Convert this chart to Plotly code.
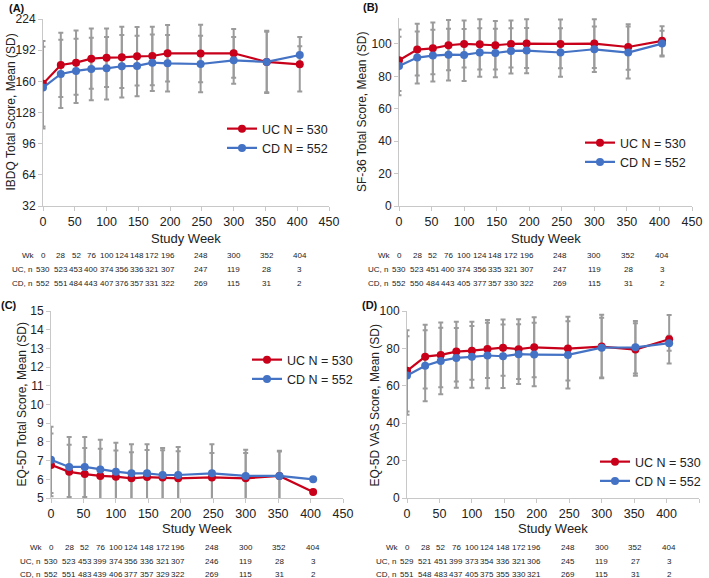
import plotly.graph_objects as go

# study weeks (x) shared by all four panels
weeks = [0, 28, 52, 76, 100, 124, 148, 172, 196, 248, 300, 352, 404]

# (A) IBDQ total score
ibdq_uc = [157.5, 176.8, 179.2, 183.3, 184.3, 184.6, 185.7, 186.0, 188.8, 188.5, 188.8, 179.9, 177.5]
ibdq_uc_sd = [44, 33, 33, 31, 30, 31.5, 30, 30, 29, 29.5, 25, 32, 28]
ibdq_cd = [153.6, 167.6, 170.7, 172.7, 173.4, 175.5, 175.8, 179.2, 178.5, 177.8, 181.6, 179.9, 187.0]
ibdq_cd_sd = [42, 35, 33, 32, 32, 32, 31, 29, 29, 29, 24, 31, 9]
ibdq_uc_n = [530, 523, 453, 400, 374, 356, 336, 321, 307, 247, 119, 28, 3]
ibdq_cd_n = [552, 551, 484, 443, 407, 376, 357, 331, 322, 269, 115, 31, 2]

# (B) SF-36 total score
sf_uc = [89.9, 96.5, 97.3, 99.2, 100.0, 99.8, 99.2, 100.0, 100.2, 100.0, 100.2, 98.1, 101.9]
sf_uc_sd = [19, 16, 16, 15.5, 14.5, 15.5, 15, 14.5, 15, 15, 15, 14, 9]
sf_cd = [86.4, 91.6, 92.8, 93.4, 93.2, 94.7, 94.4, 95.7, 95.9, 94.7, 96.7, 94.7, 100.2]
sf_cd_sd = [18, 16, 16, 16, 16, 15, 15, 14, 14, 15, 14, 16, 8]
sf_uc_n = [530, 523, 451, 400, 374, 356, 335, 321, 307, 247, 119, 28, 3]
sf_cd_n = [552, 550, 484, 443, 405, 377, 357, 330, 322, 269, 115, 31, 2]

# (C) EQ-5D total score
eq_uc = [6.77, 6.40, 6.28, 6.18, 6.14, 6.05, 6.12, 6.10, 6.05, 6.10, 6.05, 6.18, 5.32]
eq_uc_sd = [1.68, 1.45, 1.4, 1.45, 1.4, 1.4, 1.45, 1.45, 1.45, 1.3, 1.35, 1.3, None]
eq_cd = [7.04, 6.66, 6.66, 6.52, 6.41, 6.32, 6.32, 6.23, 6.23, 6.32, 6.18, 6.18, 6.00]
eq_cd_sd = [1.77, 1.6, 1.6, 1.6, 1.55, 1.55, 1.55, 1.45, 1.5, 1.55, 1.4, 1.35, None]
eq_uc_n = [530, 523, 453, 399, 374, 356, 336, 321, 307, 246, 119, 28, 3]
eq_cd_n = [552, 551, 483, 439, 406, 377, 357, 329, 322, 269, 115, 31, 2]

# (D) EQ-5D VAS score
vas_uc = [68.0, 75.6, 76.5, 78.3, 78.8, 79.7, 80.4, 79.6, 80.6, 79.9, 81.0, 79.4, 84.9]
vas_uc_sd = [21.7, 17, 17.3, 16, 15.5, 15.5, 15, 16, 16, 17, 17, 14, 13]
vas_cd = [65.5, 70.7, 73.3, 74.9, 75.5, 76.2, 75.8, 76.9, 76.7, 76.5, 80.4, 80.6, 82.8]
vas_cd_sd = [21, 19, 17.8, 16, 16.5, 17.5, 17, 16, 17, 18, 16, 14, 4]
vas_uc_n = [529, 521, 451, 399, 373, 354, 336, 321, 306, 245, 119, 27, 3]
vas_cd_n = [551, 548, 483, 437, 405, 375, 355, 330, 321, 269, 115, 31, 2]

RED = "#C8001A"
BLUE = "#4472C4"
GREY = "#9B9B9B"
FONT = "Liberation Sans, Arial, sans-serif"
W, H = 709, 578

panels = [
    dict(tag="(A)", ax="", leg="legend", uc=ibdq_uc, ucsd=ibdq_uc_sd, cd=ibdq_cd, cdsd=ibdq_cd_sd,
         ucn=ibdq_uc_n, cdn=ibdq_cd_n, title="IBDQ Total Score, Mean (SD)",
         yrange=[32, 224], yticks=[32, 64, 96, 128, 160, 192, 224],
         xdom=[43, 329], ydom=[19, 206], legpos=(222, 114), tag_xy=(27, 8),
         table_y=[255, 269, 283], ytitle_x=10, xtitle_y=238),
    dict(tag="(B)", ax="2", leg="legend2", uc=sf_uc, ucsd=sf_uc_sd, cd=sf_cd, cdsd=sf_cd_sd,
         ucn=sf_uc_n, cdn=sf_cd_n, title="SF-36 Total Score, Mean (SD)",
         yrange=[0, 116], yticks=[0, 20, 40, 60, 80, 100],
         xdom=[399, 692], ydom=[18, 206], legpos=(580, 128), tag_xy=(381, 7),
         table_y=[255, 269, 283], ytitle_x=362, xtitle_y=238),
    dict(tag="(C)", ax="3", leg="legend3", uc=eq_uc, ucsd=eq_uc_sd, cd=eq_cd, cdsd=eq_cd_sd,
         ucn=eq_uc_n, cdn=eq_cd_n, title="EQ-5D Total Score, Mean (SD)",
         yrange=[5, 15], yticks=list(range(5, 16)),
         xdom=[51, 343], ydom=[311, 498], legpos=(247, 345), tag_xy=(19, 305),
         table_y=[547, 561, 574], ytitle_x=21, xtitle_y=528),
    dict(tag="(D)", ax="4", leg="legend4", uc=vas_uc, ucsd=vas_uc_sd, cd=vas_cd, cdsd=vas_cd_sd,
         ucn=vas_uc_n, cdn=vas_cd_n, title="EQ-5D VAS Score, Mean (SD)",
         yrange=[0, 100], yticks=[0, 20, 40, 60, 80, 100],
         xdom=[407, 699], ydom=[311, 498], legpos=(595, 447), tag_xy=(380, 305),
         table_y=[547, 561, 574], ytitle_x=374, xtitle_y=528),
]

fig = go.Figure()
annotations = []
layout = {}
txt = "#222"

for p in panels:
    xa, ya = "x" + p["ax"], "y" + p["ax"]
    # error bars first so they sit behind the lines
    for vals, sd in [(p["uc"], p["ucsd"]), (p["cd"], p["cdsd"])]:
        fig.add_trace(go.Scatter(
            x=weeks, y=vals, xaxis=xa, yaxis=ya, mode="markers",
            marker=dict(size=1, opacity=0), showlegend=False, hoverinfo="skip",
            error_y=dict(type="data", array=sd, visible=True, color=GREY, thickness=2, width=2.5)))
    fig.add_trace(go.Scatter(
        x=weeks, y=p["uc"], xaxis=xa, yaxis=ya, mode="lines+markers", name="UC N = 530",
        line=dict(color=RED, width=2.2), marker=dict(color=RED, size=8), legend=p["leg"]))
    fig.add_trace(go.Scatter(
        x=weeks, y=p["cd"], xaxis=xa, yaxis=ya, mode="lines+markers", name="CD N = 552",
        line=dict(color=BLUE, width=2.2), marker=dict(color=BLUE, size=8), legend=p["leg"]))

    key = "axis" + p["ax"]
    layout["x" + key] = dict(
        domain=[p["xdom"][0] / W, p["xdom"][1] / W], anchor=ya, range=[0, 450],
        tickvals=list(range(0, 451, 50)), showline=True, linecolor="#c8c8c8", linewidth=1,
        ticks="outside", ticklen=4, tickcolor="#c8c8c8", showgrid=False, zeroline=False,
        tickfont=dict(size=12.5, color=txt), automargin=False)
    layout["y" + key] = dict(
        domain=[1 - p["ydom"][1] / H, 1 - p["ydom"][0] / H], anchor=xa, range=p["yrange"],
        tickvals=p["yticks"], showline=True, linecolor="#c8c8c8", linewidth=1,
        ticks="outside", ticklen=4, tickcolor="#c8c8c8", showgrid=False, zeroline=False,
        tickfont=dict(size=12, color=txt), automargin=False)
    layout[p["leg"]] = dict(
        x=p["legpos"][0] / W, y=1 - p["legpos"][1] / H, xanchor="left", yanchor="top",
        bgcolor="rgba(0,0,0,0)", font=dict(size=12.5, color=txt), tracegroupgap=0)

    # axis titles as annotations for exact placement
    ymid = 1 - (p["ydom"][0] + p["ydom"][1]) / 2 / H
    xmid = (p["xdom"][0] + p["xdom"][1]) / 2 / W
    annotations.append(dict(text=p["title"], x=p["ytitle_x"] / W, y=ymid, xref="paper",
                            yref="paper", textangle=-90, showarrow=False,
                            xanchor="center", yanchor="middle", font=dict(size=12, color=txt)))
    annotations.append(dict(text="Study Week", x=xmid, y=1 - p["xtitle_y"] / H, xref="paper",
                            yref="paper", showarrow=False, xanchor="center", yanchor="middle",
                            font=dict(size=13, color=txt)))
    annotations.append(dict(text="<b>" + p["tag"] + "</b>", x=p["tag_xy"][0] / W,
                            y=1 - p["tag_xy"][1] / H, xref="paper", yref="paper",
                            xanchor="right", yanchor="middle", showarrow=False,
                            font=dict(size=11, color="#111")))
    # n-at-risk table under each panel
    rows = [("Wk", weeks, -6), ("UC, n", p["ucn"], -9), ("CD, n", p["cdn"], -9)]
    for (label, vals, shift), ty in zip(rows, p["table_y"]):
        annotations.append(dict(text=label, x=0, xref=xa, y=1 - ty / H, yref="paper",
                                xanchor="right", xshift=shift, yanchor="middle",
                                showarrow=False, font=dict(size=8, color=txt)))
        for wk, v in zip(weeks, vals):
            annotations.append(dict(text=str(v), x=wk, xref=xa, y=1 - ty / H, yref="paper",
                                    xanchor="center", yanchor="middle", showarrow=False,
                                    font=dict(size=8, color=txt)))

fig.update_layout(
    width=W, height=H, margin=dict(l=0, r=0, t=0, b=0, autoexpand=False),
    paper_bgcolor="white", plot_bgcolor="white",
    font=dict(family=FONT, color=txt),
    annotations=annotations, **layout)

# drop the browser's default body margin so the figure sits at the page corner
fig.write_html("out.html", config={"displayModeBar": False},
               post_script="document.body.style.margin='0px';")
